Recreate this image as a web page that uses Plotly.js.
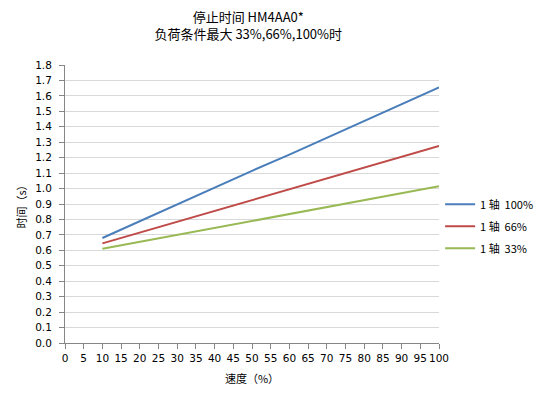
<!DOCTYPE html>
<html>
<head>
<meta charset="utf-8">
<script src="https://cdn.plot.ly/plotly-3.0.1.min.js"></script>
<style>html,body{margin:0;padding:0;background:#fff;}#chart{width:550px;height:396px;}</style>
</head>
<body>
<div id="chart"></div>
<script>
const speeds = [10, 20, 30, 40, 50, 60, 70, 80, 90, 100];
const load100 = [0.68, 0.79, 0.90, 1.01, 1.115, 1.22, 1.33, 1.44, 1.55, 1.655];
const load66 = [0.645, 0.715, 0.785, 0.855, 0.925, 0.995, 1.065, 1.135, 1.205, 1.275];
const load33 = [0.61, 0.655, 0.70, 0.745, 0.79, 0.835, 0.88, 0.925, 0.97, 1.015];
const seriesNames = ['1 轴  100%', '1 轴  66%', '1 轴  33%'];
const colors = ['#4a7ebb', '#be4b48', '#98b954'];
const xTicks = [0,5,10,15,20,25,30,35,40,45,50,55,60,65,70,75,80,85,90,95,100];

const cjk = '"Noto Sans CJK SC", "DejaVu Sans", sans-serif';
const num = '"DejaVu Sans", Verdana, sans-serif';

const data = [load100, load66, load33].map((ys, i) => ({
  x: speeds, y: ys, type: 'scatter', mode: 'lines', name: seriesNames[i],
  legendgroup: 'g' + i,
  line: {color: colors[i], width: 2}
}));

const layout = {
  width: 550, height: 396,
  margin: {l: 65, r: 106, t: 65, b: 53},
  paper_bgcolor: '#fff', plot_bgcolor: '#fff',
  title: {
    text: '停止时间 HM4AA0*<br>负荷条件最大 33%,66%,100%时',
    font: {family: cjk, size: 13, color: '#000'},
    x: 0.49, xref: 'paper', xanchor: 'center',
    yref: 'container', y: 0.945, yanchor: 'top'
  },
  xaxis: {
    range: [0, 100], tickvals: xTicks, ticktext: xTicks.map(String), tickangle: 0,
    ticks: 'outside', ticklen: 5, tickcolor: '#868686',
    showline: true, linecolor: '#868686', linewidth: 1,
    showgrid: false, zeroline: false,
    tickfont: {family: num, size: 10.5, color: '#000'},
    title: {text: '速度（%）', font: {family: cjk, size: 11, color: '#000'}, standoff: 12}
  },
  yaxis: {
    range: [0, 1.8], dtick: 0.1, tickformat: '.1f',
    ticks: 'outside', ticklen: 5, tickcolor: '#868686', ticklabelstandoff: 5,
    showline: true, linecolor: '#868686', linewidth: 1,
    showgrid: true, gridcolor: '#d9d9d9', gridwidth: 1, zeroline: false,
    tickfont: {family: num, size: 10.5, color: '#000'},
    title: {text: '时间（s）', font: {family: cjk, size: 11, color: '#000'}, standoff: 6}
  },
  legend: {
    x: 1.003, xanchor: 'left', y: 0.42, yanchor: 'middle',
    font: {family: cjk, size: 11, color: '#000'},
    bgcolor: 'rgba(0,0,0,0)', traceorder: 'grouped', tracegroupgap: 3
  },
  showlegend: true
};

Plotly.newPlot('chart', data, layout, {displayModeBar: false, staticPlot: true});
</script>
</body>
</html>
